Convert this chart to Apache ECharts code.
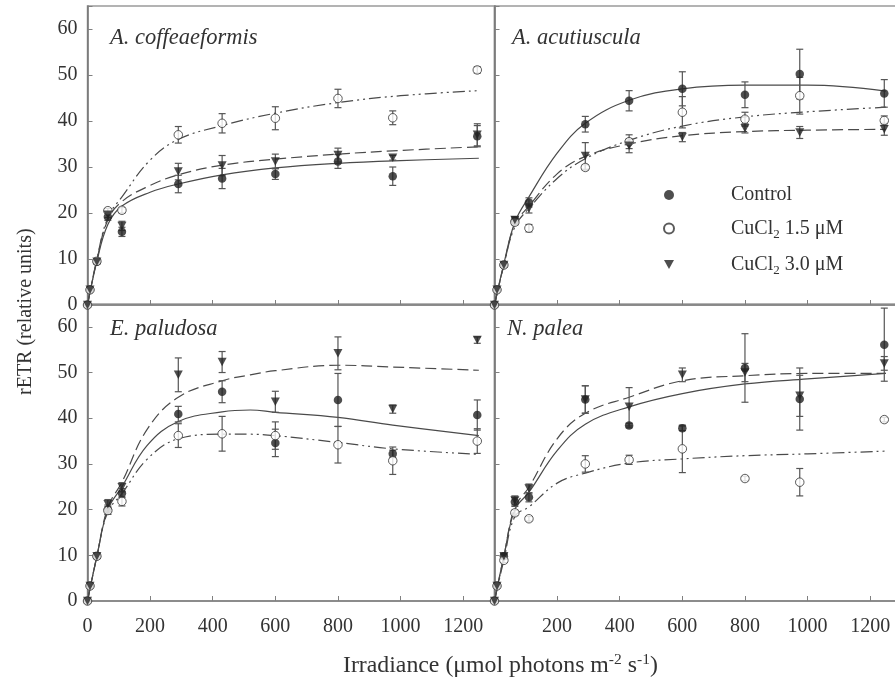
<!DOCTYPE html>
<html>
<head>
<meta charset="utf-8">
<script src="https://cdn.jsdelivr.net/npm/echarts@6/dist/echarts.min.js"></script>
<style>
  html, body { margin: 0; padding: 0; background: #fff; }
  #chart { width: 895px; height: 685px; }
</style>
</head>
<body>
<div id="chart"></div>
<script>
// irradiance levels of the measured points
const irr = [0, 8, 30, 65, 110, 290, 430, 600, 800, 975, 1245];
const xTicks = [0, 200, 400, 600, 800, 1000, 1200];
const yTicks = [0, 10, 20, 30, 40, 50, 60];
const seriesNames = ['Control', 'CuCl2 1.5 μM', 'CuCl2 3.0 μM'];
const panelNames = ['A. coffeaeformis', 'A. acutiuscula', 'E. paludosa', 'N. palea'];

// A. coffeaeformis
const acCtrl = [0, 3.3, 9.4, 19.2, 15.9, 26.3, 27.5, 28.5, 31.2, 28.0, 36.7];
const acCtrlErr = [0, 0, 0.5, 0.8, 1.0, 1.9, 2.2, 1.2, 1.5, 2.0, 2.3];
const acCu15 = [0, 3.3, 9.5, 20.5, 20.6, 37.0, 39.5, 40.6, 44.9, 40.7, 51.1];
const acCu15Err = [0, 0, 0.4, 0.5, 0.6, 1.8, 2.1, 2.5, 2.0, 1.5, 0.7];
const acCu30 = [0, 3.3, 9.4, 19.6, 17.2, 29.0, 30.3, 31.2, 32.6, 32.0, 37.0];
const acCu30Err = [0, 0, 0.4, 0.6, 1.0, 1.8, 2.2, 1.6, 1.5, 0.5, 2.4];

// A. acutiuscula
const aaCtrl = [0, 3.3, 8.7, 18.3, 22.3, 39.3, 44.4, 47.0, 45.7, 50.2, 46.0];
const aaCtrlErr = [0, 0, 0.5, 0.8, 1.0, 1.7, 2.2, 3.7, 2.8, 5.4, 3.0];
const aaCu15 = [0, 3.3, 8.7, 18.0, 16.7, 29.9, 35.5, 41.9, 40.4, 45.5, 40.1];
const aaCu15Err = [0, 0, 0.4, 0.6, 0.8, 0.6, 1.5, 3.4, 1.5, 4.0, 1.0];
const aaCu30 = [0, 3.3, 8.7, 18.5, 21.0, 32.4, 34.6, 36.5, 38.4, 37.5, 38.2];
const aaCu30Err = [0, 0, 0.4, 0.7, 1.0, 2.9, 1.5, 1.0, 1.0, 1.3, 1.3];

// E. paludosa
const epCtrl = [0, 3.3, 9.8, 20.0, 23.6, 40.9, 45.8, 34.6, 44.0, 32.2, 40.7];
const epCtrlErr = [0, 0, 0.5, 1.0, 1.0, 1.7, 2.4, 3.0, 5.8, 0.8, 3.3];
const epCu15 = [0, 3.3, 9.8, 19.8, 21.8, 36.2, 36.6, 36.2, 34.2, 30.7, 35.0];
const epCu15Err = [0, 0, 0.5, 0.8, 1.0, 2.6, 3.8, 3.0, 4.0, 3.0, 2.7];
const epCu30 = [0, 3.3, 9.8, 21.2, 24.9, 49.5, 52.3, 43.6, 54.2, 42.0, 57.1];
const epCu30Err = [0, 0, 0.5, 1.0, 1.0, 3.7, 2.3, 2.3, 3.6, 0.9, 0.7];

// N. palea
const npCtrl = [0, 3.3, 9.8, 21.7, 22.7, 44.1, 38.4, 37.8, 51.0, 44.2, 56.1];
const npCtrlErr = [0, 0, 0.5, 1.0, 1.0, 3.0, 0.5, 0.5, 7.5, 6.8, 8.0];
const npCu15 = [0, 3.3, 8.9, 19.3, 18.0, 30.0, 30.9, 33.3, 26.8, 26.0, 39.7];
const npCu15Err = [0, 0, 0.5, 0.6, 0.5, 1.8, 1.0, 5.2, 0.5, 3.0, 0.5];
const npCu30 = [0, 3.3, 9.8, 22.0, 24.6, 44.1, 42.5, 49.5, 50.0, 44.9, 52.0];
const npCu30Err = [0, 0, 0.5, 1.0, 1.0, 3.0, 4.2, 1.5, 2.0, 4.5, 1.5];

// fitted curves
const fitX = [0, 30, 65, 110, 200, 290, 430, 600, 800, 1000, 1250];
const fitXep = [0, 30, 65, 110, 190, 290, 430, 520, 600, 800, 975, 1250];
const acCtrlFit = [0, 9.5, 17.5, 21.5, 24.5, 26.3, 28.3, 29.8, 30.8, 31.4, 31.9];
const acCu15Fit = [0, 10, 19, 23.5, 31.5, 36, 39, 41.7, 44.0, 45.5, 46.6];
const acCu30Fit = [0, 9.8, 18.5, 22.5, 26, 28.3, 30.4, 31.7, 32.8, 33.6, 34.4];
const aaCtrlFit = [0, 9, 18, 23.5, 33, 39.5, 44.5, 47, 47.8, 47.8, 46.5];
const aaCu15Fit = [0, 8.7, 17, 21, 27.5, 31.8, 35.8, 38.9, 40.9, 42.0, 43.0];
const aaCu30Fit = [0, 8.7, 17.5, 21.5, 28.5, 32.3, 35, 36.8, 37.7, 38.0, 38.2];
const epCtrlFit = [0, 9.8, 20, 25, 34, 39.3, 41.4, 41.8, 41.3, 40.2, 38.5, 36.2];
const epCu15Fit = [0, 9.8, 19.5, 23.5, 31, 35.5, 36.5, 36.5, 36.2, 34.7, 33.3, 32.1];
const epCu30Fit = [0, 9.8, 20.5, 26, 37.5, 44.6, 48.2, 49.5, 50.4, 51.6, 51.2, 50.5];
const npCtrlFit = [0, 9.8, 20, 23.8, 32.9, 38.7, 42.5, 45.4, 47.5, 48.6, 49.8];
const npCu15Fit = [0, 9, 18.5, 20.6, 25.8, 28.0, 30.2, 31.1, 31.8, 32.2, 32.8];
const npCu30Fit = [0, 9.8, 20.5, 24.9, 35.5, 41.1, 44.6, 48.2, 49.3, 49.8, 49.8];

const panels = [
  {pts: [acCtrl, acCu15, acCu30], err: [acCtrlErr, acCu15Err, acCu30Err], fx: fitX, fit: [acCtrlFit, acCu15Fit, acCu30Fit]},
  {pts: [aaCtrl, aaCu15, aaCu30], err: [aaCtrlErr, aaCu15Err, aaCu30Err], fx: fitX, fit: [aaCtrlFit, aaCu15Fit, aaCu30Fit]},
  {pts: [epCtrl, epCu15, epCu30], err: [epCtrlErr, epCu15Err, epCu30Err], fx: fitXep, fit: [epCtrlFit, epCu15Fit, epCu30Fit]},
  {pts: [npCtrl, npCu15, npCu30], err: [npCtrlErr, npCu15Err, npCu30Err], fx: fitX, fit: [npCtrlFit, npCu15Fit, npCu30Fit]}
];

const font = 'Liberation Serif';
const ink = '#222';
const lineDash = ['solid', [12, 4, 2, 4, 2, 4], [11, 5]];
const downTriangle = 'path://M0,0 L10,0 L5,9 Z';
const marker = [
  {symbol: 'circle', size: 8.5, style: {color: ink}},
  {symbol: 'circle', size: 8.5, style: {color: '#fff', borderColor: '#333', borderWidth: 1}},
  {symbol: downTriangle, size: [9, 8.5], style: {color: ink}}
];

const chart = echarts.init(document.getElementById('chart'));

const grids = [
  {left: 87.5, top: 6, width: 407, height: 299},
  {left: 494.5, top: 6, width: 407, height: 299},
  {left: 87.5, top: 304, width: 407, height: 297},
  {left: 494.5, top: 304, width: 407, height: 297}
].map(g => Object.assign(g, {show: true, borderColor: '#9a9a9a', borderWidth: 1.5, containLabel: false, outerBoundsMode: 'none'}));

const xAxes = grids.map((g, i) => ({
  gridIndex: i, type: 'value', min: 0, max: 1300, interval: 200,
  axisLine: {show: true, lineStyle: {color: '#808080', width: 1.5}},
  axisTick: {show: true, inside: true, length: 5, lineStyle: {color: '#808080'}},
  splitLine: {show: false},
  axisLabel: {
    show: i >= 2, fontFamily: font, fontSize: 20, color: '#333', margin: 16,
    formatter: v => (v > 1200 || (i === 3 && v === 0)) ? '' : String(v)
  }
}));

const yAxes = grids.map((g, i) => ({
  gridIndex: i, type: 'value', min: 0, max: 65, interval: 10,
  axisLine: {show: true, lineStyle: {color: '#707070', width: 1.5}},
  axisTick: {show: true, inside: true, length: 5, lineStyle: {color: '#808080'}},
  splitLine: {show: false},
  axisLabel: {
    show: i % 2 === 0, fontFamily: font, fontSize: 20, color: '#333', margin: 10,
    formatter: v => v > 60 ? '' : String(v)
  }
}));

function errorBars(gi, ys, es) {
  const data = [];
  irr.forEach((x, k) => { if (es[k] > 0) data.push([x, ys[k] - es[k], ys[k] + es[k]]); });
  return {
    type: 'custom', xAxisIndex: gi, yAxisIndex: gi, z: 2, silent: true,
    data: data,
    renderItem: (params, api) => {
      const x = api.value(0);
      const lo = api.coord([x, api.value(1)]);
      const hi = api.coord([x, api.value(2)]);
      const w = 3.5;
      const st = {stroke: '#555', lineWidth: 1.2};
      return {type: 'group', children: [
        {type: 'line', shape: {x1: lo[0], y1: lo[1], x2: hi[0], y2: hi[1]}, style: st},
        {type: 'line', shape: {x1: lo[0] - w, y1: lo[1], x2: lo[0] + w, y2: lo[1]}, style: st},
        {type: 'line', shape: {x1: hi[0] - w, y1: hi[1], x2: hi[0] + w, y2: hi[1]}, style: st}
      ]};
    }
  };
}

const series = [];
panels.forEach((p, gi) => {
  for (let s = 0; s < 3; s++) {
    series.push({
      name: 'fit ' + gi + '-' + s, type: 'line', xAxisIndex: gi, yAxisIndex: gi,
      data: p.fx.map((x, k) => [x, p.fit[s][k]]),
      showSymbol: false, smooth: 0.4, silent: true, z: 1,
      lineStyle: {color: '#4a4a4a', width: 1.2, type: lineDash[s]}
    });
    series.push(errorBars(gi, p.pts[s], p.err[s]));
  }
  for (let s = 0; s < 3; s++) {
    series.push({
      name: seriesNames[s], type: 'scatter', xAxisIndex: gi, yAxisIndex: gi, z: 3,
      symbol: marker[s].symbol, symbolSize: marker[s].size,
      itemStyle: marker[s].style,
      data: irr.map((x, k) => [x, p.pts[s][k]])
    });
  }
});

const panelPos = [[110, 27], [512, 27], [110, 318], [507, 318]];

chart.setOption({
  animation: false,
  backgroundColor: '#fff',
  grid: grids,
  xAxis: xAxes,
  yAxis: yAxes,
  legend: {
    orient: 'vertical', left: 663, top: 185, padding: 0, itemWidth: 10, itemHeight: 10, itemGap: 11,
    data: seriesNames.map((n, s) => s === 2 ? {name: n, icon: downTriangle} : {name: n}),
    selectedMode: false,
    formatter: name => {
      if (name === 'Control') return '{gap|}{t|Control}';
      return '{gap|}{t|CuCl}{sub|2}{t|' + name.slice(5) + '}';
    },
    textStyle: {
      fontFamily: font, color: '#333',
      rich: {
        gap: {width: 52},
        t: {fontFamily: font, fontSize: 20, color: '#333', lineHeight: 22},
        sub: {fontFamily: font, fontSize: 13, color: '#333', padding: [12, 0, 0, 0], lineHeight: 22}
      }
    }
  },
  graphic: [
    ...panelNames.map((n, i) => ({
      type: 'text', left: panelPos[i][0], top: panelPos[i][1],
      style: {text: n, font: 'italic 22.5px "Liberation Serif"', fill: '#333'}
    })),
    {
      type: 'text', left: 343, top: 652,
      style: {
        text: '{t|Irradiance (μmol photons m}{sup|-2}{t| s}{sup|-1}{t|)}',
        rich: {
          t: {font: '23.8px "Liberation Serif"', fill: '#333', lineHeight: 28},
          sup: {font: '15.5px "Liberation Serif"', fill: '#333', padding: [0, 0, 12, 0], lineHeight: 28}
        }
      }
    },
    {
      type: 'text', x: 16, y: 395, rotation: Math.PI / 2,
      style: {text: 'rETR (relative units)', font: '20px "Liberation Serif"', fill: '#333'}
    }
  ],
  series: series
});
</script>
</body>
</html>
